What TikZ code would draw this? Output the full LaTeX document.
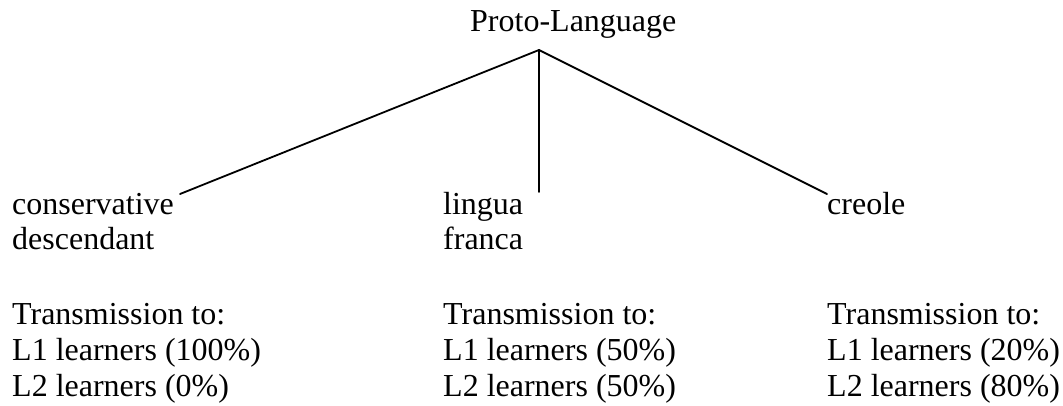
\documentclass[tikz,border=0pt]{standalone}
\usepackage{fontspec}
\setmainfont{Liberation Serif}
\begin{document}
\begin{tikzpicture}[x=1pt,y=-1pt,
  txt/.style={anchor=base west,inner sep=0pt,font=\rmfamily\fontsize{32}{36}\selectfont},
  branch/.style={line width=1.8pt,line cap=round}]
\useasboundingbox (0,0) rectangle (1063,406);
\node[txt] (proto) at (470,32) {Proto-Language};
\coordinate (apex) at (539,50);
% left column
\node[txt] (c1) at (12,215) {conservative};
\node[txt] (c2) at (12,250) {descendant};
\node[txt] (c3) at (12,324) {Transmission to:};
\node[txt] (c4) at (12,360) {L1 learners (100\%)};
\node[txt] (c5) at (12,396) {L2 learners (0\%)};
% middle column
\node[txt] (m1) at (443,215) {lingua};
\node[txt] (m2) at (443,250) {franca};
\node[txt] (m3) at (443,324) {Transmission to:};
\node[txt] (m4) at (443,360) {L1 learners (50\%)};
\node[txt] (m5) at (443,396) {L2 learners (50\%)};
% right column
\node[txt] (r1) at (827,215) {creole};
\node[txt] (r3) at (827,324) {Transmission to:};
\node[txt] (r4) at (827,360) {L1 learners (20\%)};
\node[txt] (r5) at (827,396) {L2 learners (80\%)};
% branch ends
\coordinate (lend) at (180,194);
\coordinate (mend) at (539,192);
\coordinate (rend) at (827,194);
\draw[branch] (apex) -- (lend);
\draw[branch] (apex) -- (mend);
\draw[branch] (apex) -- (rend);
\end{tikzpicture}
\end{document}
